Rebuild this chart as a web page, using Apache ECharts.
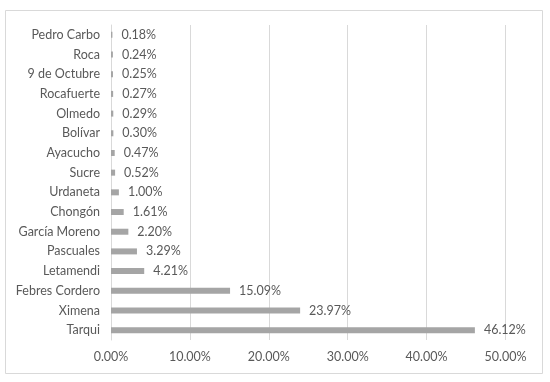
<!DOCTYPE html>
<html>
<head>
<meta charset="utf-8">
<script src="https://cdn.jsdelivr.net/npm/echarts@6/dist/echarts.min.js"></script>
<style>html,body{margin:0;padding:0;background:#fff;}#c{width:550px;height:382px;}</style>
</head>
<body>
<div id="c"></div>
<script>
var categories = ["Pedro Carbo","Roca","9 de Octubre","Rocafuerte","Olmedo","Bolívar","Ayacucho","Sucre","Urdaneta","Chongón","García Moreno","Pascuales","Letamendi","Febres Cordero","Ximena","Tarqui"];
var values = [0.18,0.24,0.25,0.27,0.29,0.30,0.47,0.52,1.00,1.61,2.20,3.29,4.21,15.09,23.97,46.12];
var xTicks = [0,10,20,30,40,50];

var font = "Lato, 'Open Sans', sans-serif";
var chart = echarts.init(document.getElementById('c'), null, {renderer:'canvas'});
chart.setOption({
  animation:false,
  backgroundColor:'#fff',
  textStyle:{fontFamily:font},
  graphic:[{type:'rect',shape:{x:5.5,y:10.5,width:537,height:363},style:{fill:'none',stroke:'#d9d9d9',lineWidth:1},z:-1}],
  grid:{left:111,right:44.5,top:25,bottom:42,containLabel:false},
  xAxis:{type:'value',min:xTicks[0],max:xTicks[xTicks.length-1],interval:10,
    axisLine:{show:false},axisTick:{show:false},
    splitLine:{show:true,lineStyle:{color:'#d9d9d9',width:1}},
    axisLabel:{color:'#595959',fontSize:12.5,fontFamily:font,margin:10,formatter:function(v){return v.toFixed(2)+'%';}}},
  yAxis:{type:'category',data:categories,inverse:true,
    axisLine:{show:true,lineStyle:{color:'#d9d9d9'}},axisTick:{show:false},
    axisLabel:{color:'#595959',fontSize:12.5,fontFamily:font,margin:11}},
  series:[{type:'bar',data:values,barWidth:6,itemStyle:{color:'#a5a5a5'},
    label:{show:true,position:'right',distance:9,color:'#595959',fontSize:12.5,fontFamily:font,
      formatter:function(p){return p.value.toFixed(2)+'%';}}}]
});
</script>
</body>
</html>
